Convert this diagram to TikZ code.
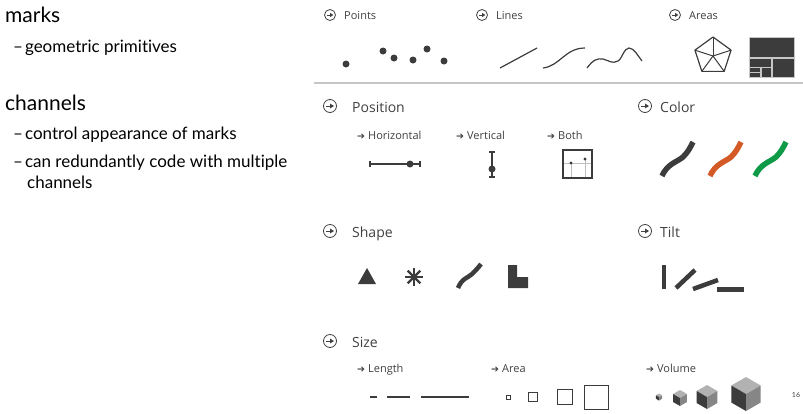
\documentclass[tikz,border=0pt]{standalone}
\usepackage{fontspec}
\setmainfont{Lato}[Ligatures=NoCommon]
\newfontfamily\uifont{Open Sans}
\newfontfamily\symfont{DejaVu Sans}
\usetikzlibrary{calc}

\definecolor{ink}{HTML}{3C3C3C}
\definecolor{labelgray}{HTML}{404040}
\definecolor{orangemark}{HTML}{D35A27}
\definecolor{greenmark}{HTML}{0F9A48}

\newcommand{\subarrow}{{\symfont\fontsize{9.5}{10}\selectfont ➔}\hspace{3pt}}

\tikzset{
  big/.style={anchor=base west, inner sep=0pt, font=\fontsize{21}{24}\selectfont, text=black},
  bullet/.style={anchor=base west, inner sep=0pt, font=\fontsize{17}{20}\selectfont, text=black},
  smallhead/.style={anchor=base west, inner sep=0pt, font=\uifont\fontsize{11}{13}\selectfont, text=labelgray},
  sechead/.style={anchor=base west, inner sep=0pt, font=\uifont\fontsize{14}{16}\selectfont, text=labelgray},
  subhead/.style={anchor=base west, inner sep=0pt, font=\uifont\fontsize{11}{13}\selectfont, text=labelgray},
  dot/.style={fill=ink, draw=none},
  glyph/.style={draw=ink, line width=1.2pt},
  thickmark/.style={line width=5.5pt, line cap=butt},
  tiltbar/.style={draw=ink, line width=4.5pt, line cap=butt},
  treebox/.style={fill=ink, draw=gray!45, line width=0.9pt},
  pics/circarrow/.style={code={
    \draw[labelgray, line width=0.8pt] (0,0) circle (1);
    \draw[labelgray, line width=1pt] (-0.55,0) -- (0.1,0);
    \fill[labelgray] (0.02,-0.38) -- (0.6,0) -- (0.02,0.38) -- cycle;
  }},
  pics/cube/.style={code={
    \coordinate (T) at (0,-1);
    \coordinate (UR) at (0.866,-0.5);
    \coordinate (LR) at (0.866,0.5);
    \coordinate (B) at (0,1);
    \coordinate (LL) at (-0.866,0.5);
    \coordinate (UL) at (-0.866,-0.5);
    \coordinate (C) at (0,0);
    \fill[gray!60] (T) -- (UR) -- (C) -- (UL) -- cycle;
    \fill[ink] (UL) -- (C) -- (B) -- (LL) -- cycle;
    \fill[gray!95] (C) -- (UR) -- (LR) -- (B) -- cycle;
  }},
}

\begin{document}
\begin{tikzpicture}[x=1pt, y=-1pt]
\useasboundingbox (0,0) rectangle (803,413);

% ---------- left column text ----------
\node[big] (marks) at (5,22) {marks};
\node[bullet] (marksA) at (13,52) {–\hspace{2pt}geometric primitives};
\node[big] (channels) at (5,110) {channels};
\node[bullet] (chA) at (13,139) {–\hspace{2pt}control appearance of marks};
\node[bullet] (chB) at (13,167) {–\hspace{2pt}can redundantly code with multiple};
\node[bullet] (chC) at (27,188) {channels};

% ---------- marks ----------
\pic[scale=5.5] at (330,15) {circarrow};
\node[smallhead] (points) at (344,19) {Points};
\pic[scale=5.5] at (482,15) {circarrow};
\node[smallhead] (lines) at (496,19) {Lines};
\pic[scale=5.5] at (675,15) {circarrow};
\node[smallhead] (areas) at (689,19) {Areas};

% points
\foreach \p in {(346,64),(383,51),(394,58),(413,60),(427,49),(444,61)}
  \fill[dot] \p circle (3.5);

% lines
\draw[glyph] (500,68) -- (537,48);
\draw[glyph] (543,68) .. controls (560,66) and (565,48) .. (585,48);
\draw[glyph] (587,68) .. controls (593,60) and (597,58) .. (603,59)
  .. controls (610,61) and (612,64) .. (618,61)
  .. controls (622,59) and (624,48) .. (629,48)
  .. controls (634,48) and (638,56) .. (642,61);

% areas: pentagon split into triangles
\coordinate (pc) at (713,56);
\draw[glyph, line join=round]
  ($(pc)+(-90:19)$) -- ($(pc)+(-18:19)$) -- ($(pc)+(54:19)$)
  -- ($(pc)+(126:19)$) -- ($(pc)+(198:19)$) -- cycle;
\foreach \a in {-90,-18,54,126,198}
  \draw[draw=ink, line width=1pt] (pc) -- ($(pc)+(\a:19)$);

% areas: treemap
\draw[treebox] (749,37) rectangle (794,57);
\draw[treebox] (772,58) rectangle (794,77);
\draw[treebox] (749,58) rectangle (771,67);
\draw[treebox] (749,67) rectangle (760,72);
\draw[treebox] (749,72) rectangle (760,77);
\draw[treebox] (761,67) rectangle (771,77);

% separator
\draw[gray!45, line width=2pt] (314,83) -- (803,83);

% ---------- channels ----------
% position
\pic[scale=6.5] at (330,106) {circarrow};
\node[sechead] (position) at (352,112) {Position};
\node[subhead] (horiz) at (357,139) {\subarrow Horizontal};
\node[subhead] (vert) at (456,139) {\subarrow Vertical};
\node[subhead] (both) at (547,139) {\subarrow Both};

\draw[glyph] (370,164) -- (420,164);
\draw[glyph] (370,161) -- (370,167);
\draw[glyph] (420,161) -- (420,167);
\fill[dot] (410,164) circle (3.5);

\draw[glyph] (492,152) -- (492,177);
\draw[glyph] (489,152) -- (495,152);
\draw[glyph] (489,177) -- (495,177);
\fill[dot] (492,169) circle (3.5);

\draw[draw=ink, line width=1.5pt] (563,150) rectangle (592,178);
\draw[gray!50, line width=0.5pt] (571,163) -- (571,177) (564,163) -- (591,163);
\draw[gray!50, line width=0.5pt] (585,159) -- (585,177);
\fill[dot] (571,163) circle (1.6);
\fill[dot] (585,159) circle (1.6);

% color
\pic[scale=6.5] at (645,106) {circarrow};
\node[sechead] (color) at (660,112) {Color};
\foreach \dx/\c in {0/ink, 48/orangemark, 93/greenmark}
  \draw[thickmark, draw=\c, xshift=\dx pt]
    (662,176) .. controls (667,164) and (677,162) .. (683,157)
    .. controls (688,152) and (690,148) .. (693,142);

% shape
\pic[scale=6.5] at (330,231) {circarrow};
\node[sechead] (shape) at (352,237) {Shape};
\fill[ink] (358,284) -- (376,284) -- (367,268) -- cycle;
\foreach \a in {0,45,90,135}
  \draw[draw=ink, line width=2.4pt] ($(414,277)+(\a:9)$) -- ($(414,277)+(\a+180:9)$);
\draw[draw=ink, line width=4.5pt, line cap=butt]
  (458,288) .. controls (462,278) and (468,278) .. (472,274)
  .. controls (476,270) and (478,268) .. (481,264);
\fill[ink] (508,265) -- (517,265) -- (517,277) -- (528,277) -- (528,288) -- (508,288) -- cycle;

% tilt
\pic[scale=6.5] at (645,231) {circarrow};
\node[sechead] (tilt) at (660,237) {Tilt};
\draw[tiltbar] (664,265) -- (664,289);
\draw[tiltbar] (676,288) -- (695,270);
\draw[tiltbar] (693,289) -- (718,280);
\draw[tiltbar] (717,289.5) -- (744,289.5);

% size
\pic[scale=6.5] at (330,341) {circarrow};
\node[sechead] (size) at (352,347) {Size};
\node[subhead] (length) at (357,372) {\subarrow Length};
\node[subhead] (area) at (491,372) {\subarrow Area};
\node[subhead] (volume) at (646,372) {\subarrow Volume};

\draw[glyph] (370,397) -- (377,397);
\draw[glyph] (387,397) -- (410,397);
\draw[glyph] (421,397) -- (469,397);

\draw[draw=ink, line width=1pt] (506,395) rectangle (510,399);
\draw[draw=ink, line width=1pt] (528,392.5) rectangle (537,401.5);
\draw[draw=ink, line width=1pt] (557,389.5) rectangle (572,404.5);
\draw[draw=ink, line width=1pt] (584,385) rectangle (608,409);

\pic[scale=3.5] at (659,397) {cube};
\pic[scale=8] at (680,398) {cube};
\pic[scale=12] at (707,397) {cube};
\pic[scale=17] at (746,394) {cube};

% slide number
\node[inner sep=0pt, font=\fontsize{7}{8}\selectfont, text=labelgray] (pagenum) at (796,395) {16};
\end{tikzpicture}
\end{document}
